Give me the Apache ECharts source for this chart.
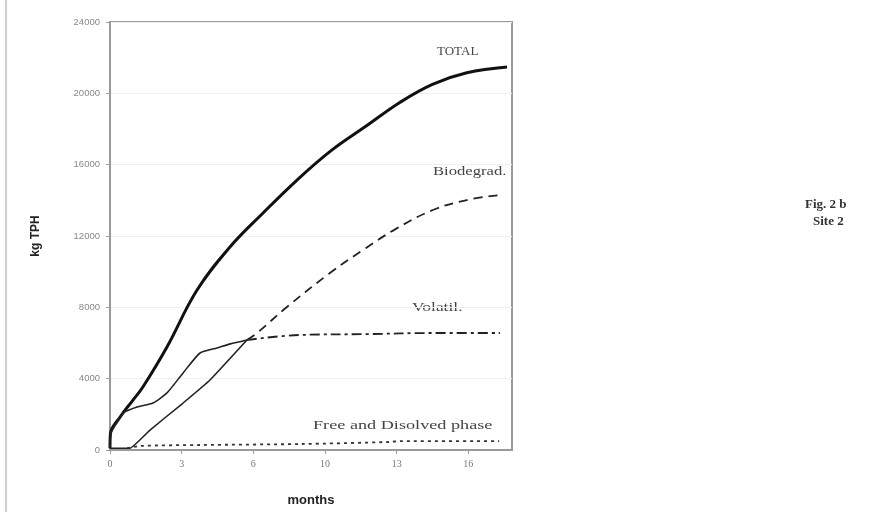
<!DOCTYPE html>
<html><head><meta charset="utf-8">
<script src="https://cdn.jsdelivr.net/npm/echarts@6/dist/echarts.min.js"></script>
<style>html,body{margin:0;padding:0;background:#fff}#c{width:891px;height:512px}</style>
</head><body><div id="c"></div>
<script>
// x tick positions (months) and their printed labels
const xTickValues = [0, 10/3, 20/3, 10, 40/3, 50/3];
const xTickLabels = ['0', '3', '6', '10', '13', '16'];

// [month, kg TPH]
const totalData = [[0,100],[0.02,900],[0.47,1850],[1.07,2800],[1.53,3530],[2.65,5775],[4.05,8970],[5.58,11382],[7.12,13289],[8.7,15139],[10.3,16800],[11.9,18150],[13.5,19500],[15.0,20500],[16.6,21150],[18.47,21475]];
const volatilMeasured = [[0,100],[0.03,900],[0.47,1800],[0.6,2075],[1.26,2410],[2.0,2635],[2.65,3200],[3.4,4320],[4.19,5440],[4.98,5720],[5.6,5950],[6.37,6170]];
const volatilProjected = [[6.37,6170],[8.84,6450],[11.95,6500],[15.02,6560],[18.14,6560]];
const biodegMeasured = [[0,100],[0.93,100],[1.86,1120],[3.4,2635],[4.65,3925],[6.37,6170]];
const biodegProjected = [[6.37,6170],[6.84,6560],[8.23,8018],[10.23,9924],[11.77,11214],[13.3,12400],[15.02,13457],[16.6,14018],[18.14,14298]];
const freeDissolved = [[0.8,100],[1.4,225],[4.2,280],[8.8,335],[13,450],[13.5,500],[18.1,500]];

const chart = echarts.init(document.getElementById('c'));
function label(text, x, y, size, sx) {
  return {type: 'text', x: x, y: y, scaleX: sx, style: {text: text, font: size + 'px "Liberation Serif"', fill: '#444', verticalAlign: 'middle', align: 'left'}};
}
chart.setOption({
  animation: false,
  backgroundColor: '#fff',
  grid: {left: 110, top: 22, width: 402, height: 428, show: true, borderColor: '#9a9a9a', borderWidth: 2},
  xAxis: {
    type: 'value', min: 0, max: 18.7,
    name: 'months', nameLocation: 'middle', nameGap: 44,
    nameTextStyle: {fontFamily: 'Liberation Sans', fontWeight: 'bold', fontSize: 13, color: '#222'},
    axisLine: {lineStyle: {color: '#9a9a9a', width: 2}},
    axisTick: {show: true, length: 4, lineStyle: {color: '#9a9a9a'}, customValues: xTickValues},
    axisLabel: {customValues: xTickValues, color: '#777', fontFamily: 'Liberation Serif', fontSize: 10, margin: 9,
      formatter: function (v) { const i = xTickValues.findIndex(t => Math.abs(t - v) < 1e-6); return i >= 0 ? xTickLabels[i] : ''; }},
    splitLine: {show: false}
  },
  yAxis: {
    type: 'value', min: 0, max: 24000, interval: 4000,
    name: 'kg TPH', nameLocation: 'middle', nameGap: 68, nameRotate: 90,
    nameTextStyle: {fontFamily: 'Liberation Sans', fontWeight: 'bold', fontSize: 12, color: '#222'},
    axisLine: {show: true, lineStyle: {color: '#9a9a9a', width: 2}},
    axisTick: {show: true, length: 4, lineStyle: {color: '#9a9a9a'}},
    axisLabel: {color: '#888', fontFamily: 'Liberation Sans', fontSize: 9.5, margin: 10, formatter: function (v) { return String(v); }},
    splitLine: {show: true, lineStyle: {color: '#efefef', width: 1}}
  },
  series: [
    {type: 'line', data: totalData, showSymbol: false, smooth: 0.4, lineStyle: {color: '#111', width: 3}},
    {type: 'line', data: volatilMeasured, showSymbol: false, smooth: 0.2, lineStyle: {color: '#222', width: 1.6}},
    {type: 'line', data: volatilProjected, showSymbol: false, smooth: 0.4, lineStyle: {color: '#222', width: 1.8, type: [10, 4, 3, 4]}},
    {type: 'line', data: biodegMeasured, showSymbol: false, smooth: 0.1, lineStyle: {color: '#222', width: 1.6}},
    {type: 'line', data: biodegProjected, showSymbol: false, smooth: 0.4, lineStyle: {color: '#222', width: 1.8, type: [9, 6]}},
    {type: 'line', data: freeDissolved, showSymbol: false, smooth: 0.3, lineStyle: {color: '#333', width: 1.8, type: [3, 4]}}
  ],
  graphic: [
    {type: 'line', shape: {x1: 6, y1: 0, x2: 6, y2: 512}, style: {stroke: '#d0d0d0', lineWidth: 2}},
    label('TOTAL', 437, 52, 13, 1.0),
    label('Biodegrad.', 433, 172, 13, 1.28),
    label('Volatil.', 412, 308, 13, 1.34),
    label('Free and Disolved phase', 313, 426, 13, 1.4),
    {type: 'text', x: 805, y: 205, style: {text: 'Fig. 2 b', font: 'bold 13px "Liberation Serif"', fill: '#333', verticalAlign: 'middle'}},
    {type: 'text', x: 813, y: 222, style: {text: 'Site 2', font: 'bold 13px "Liberation Serif"', fill: '#333', verticalAlign: 'middle'}}
  ]
});
</script></body></html>
